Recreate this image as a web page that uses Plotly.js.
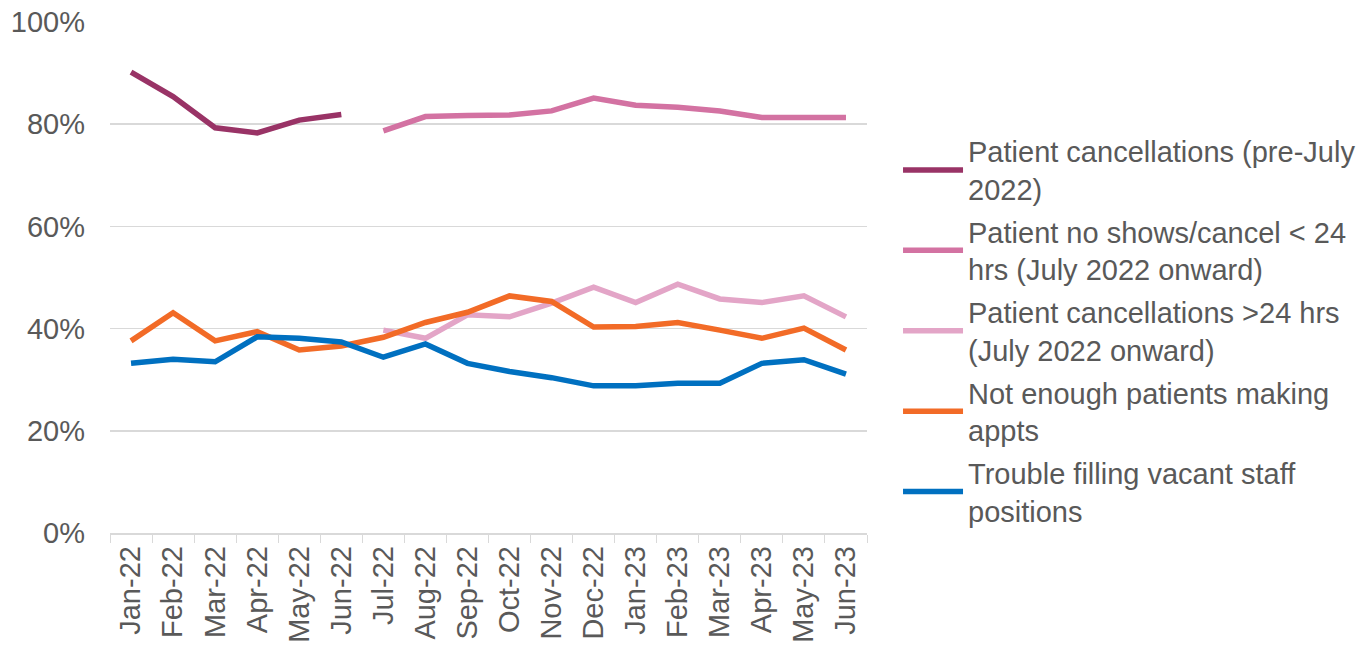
<!DOCTYPE html>
<html>
<head>
<meta charset="utf-8">
<script src="https://cdn.plot.ly/plotly-3.0.1.min.js"></script>
<style>html,body{margin:0;padding:0;background:#fff;}#chart{width:1359px;height:646px;}</style>
</head>
<body>
<div id="chart"></div>
<script>
const months = ["Jan-22","Feb-22","Mar-22","Apr-22","May-22","Jun-22","Jul-22","Aug-22","Sep-22","Oct-22","Nov-22","Dec-22","Jan-23","Feb-23","Mar-23","Apr-23","May-23","Jun-23"];
const cancelPre = [90.2, 85.4, 79.3, 78.3, 80.8, 81.9, null, null, null, null, null, null, null, null, null, null, null, null];
const noShows = [null, null, null, null, null, null, 78.7, 81.5, 81.7, 81.8, 82.6, 85.1, 83.7, 83.3, 82.6, 81.3, 81.3, 81.3];
const cancelOver24 = [null, null, null, null, null, null, 39.7, 38.1, 42.7, 42.3, 45.0, 48.1, 45.1, 48.7, 45.8, 45.1, 46.4, 42.3];
const notEnough = [37.6, 43.1, 37.6, 39.4, 35.8, 36.6, 38.3, 41.2, 43.2, 46.4, 45.3, 40.3, 40.4, 41.2, 39.7, 38.1, 40.1, 35.8];
const staffing = [33.2, 34.0, 33.5, 38.4, 38.1, 37.4, 34.4, 37.0, 33.2, 31.6, 30.4, 28.8, 28.8, 29.3, 29.3, 33.2, 33.9, 31.1];
const yTickVals = [0, 20, 40, 60, 80, 100];
const yTickText = ["0%", "20%", "40%", "60%", "80%", "100%"];

const seriesNames = [
  "Patient cancellations (pre-July<br>2022)",
  "Patient no shows/cancel < 24<br>hrs (July 2022 onward)",
  "Patient cancellations >24 hrs<br>(July 2022 onward)",
  "Not enough patients making<br>appts",
  "Trouble filling vacant staff<br>positions"
];
const seriesData = [cancelPre, noShows, cancelOver24, notEnough, staffing];
const colors = ["#993366", "#d372a2", "#e3a5c7", "#f26b27", "#0070c0"];

const traces = seriesData.map((d, i) => ({
  x: months, y: d, name: seriesNames[i], type: "scatter", mode: "lines",
  legendgroup: "g" + i,
  line: {color: colors[i], width: 5.5}, connectgaps: false
}));

const layout = {
  width: 1359, height: 646,
  margin: {l: 110, r: 492, t: 22, b: 113},
  paper_bgcolor: "#fff", plot_bgcolor: "#fff",
  font: {family: "Liberation Sans, Arial, sans-serif", color: "#595959", size: 29},
  showlegend: true,
  legend: {
    xref: "container", x: 0.6608, xanchor: "left", y: 0.797, yanchor: "top",
    font: {size: 29, color: "#595959"},
    traceorder: "grouped",
    tracegroupgap: 2, itemwidth: 60, bgcolor: "rgba(0,0,0,0)"
  },
  xaxis: {
    type: "category", range: [-0.5, 17.5], tickangle: -90,
    tickson: "boundaries", ticks: "outside", ticklen: 8, tickcolor: "#d9d9d9",
    showline: true, linecolor: "#d9d9d9", linewidth: 1.5,
    showgrid: false, tickfont: {size: 29, color: "#595959"}, fixedrange: true
  },
  yaxis: {
    range: [0, 100], tickmode: "array", tickvals: yTickVals, ticktext: yTickText,
    showgrid: true, gridcolor: "#d9d9d9", gridwidth: 1.5, zeroline: false,
    showline: false, ticks: "", ticklabelstandoff: 24,
    tickfont: {size: 29, color: "#595959"}, fixedrange: true
  }
};

Plotly.newPlot("chart", traces, layout, {displayModeBar: false, staticPlot: true});
</script>
</body>
</html>
